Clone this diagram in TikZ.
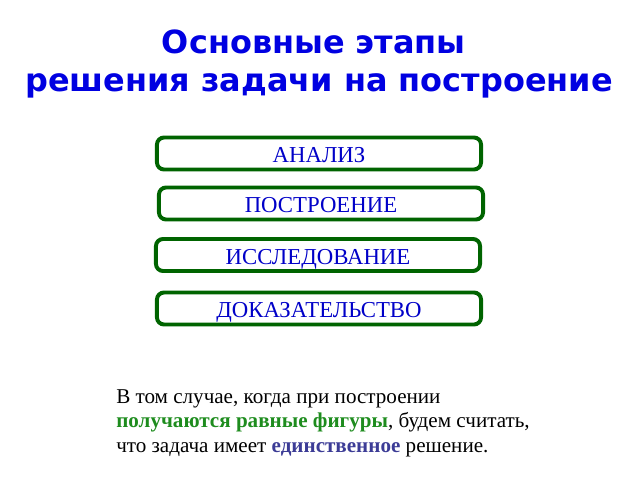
\documentclass[tikz,border=0pt]{standalone}
\usepackage{fontspec}
\setmainfont{Liberation Serif}
\newfontfamily\titlefont{DejaVu Sans}
\definecolor{titleblue}{RGB}{0,0,225}
\definecolor{stageblue}{RGB}{0,0,200}
\definecolor{framegreen}{RGB}{0,100,0}
\definecolor{wordgreen}{RGB}{30,140,30}
\definecolor{wordblue}{RGB}{60,60,150}
\tikzset{
  stage/.style={draw=framegreen, line width=2.8pt, rounded corners=5pt, fill=white,
    minimum width=8.1cm, minimum height=0.8cm, inner sep=0pt, text height=13pt, text depth=0pt,
    text=stageblue, font=\fontsize{16.2}{18}\selectfont},
  heading/.style={text=titleblue, font=\titlefont\bfseries\fontsize{22.7}{27}\selectfont, align=center}
}
\begin{document}
\begin{tikzpicture}[x=0.025cm,y=-0.025cm]
            \useasboundingbox (0,0) rectangle (640,480);
            \node[heading] (title) at (319,64) {Основные этапы\kern0.32em\\решения задачи на построение};
            \node[stage] (analysis) at (319,153.5) {АНАЛИЗ};
            \node[stage] (construction) at (321,203.5) {ПОСТРОЕНИЕ};
            \node[stage] (investigation) at (318,255) {ИССЛЕДОВАНИЕ};
            \node[stage] (proof) at (319,308.5) {ДОКАЗАТЕЛЬСТВО};
            \node[anchor=north west, align=left, inner sep=0pt, font=\fontsize{15}{17.4}\selectfont] (remark) at (116,389)
              {В том случае, когда при построении\\
               \textcolor{wordgreen}{\textbf{получаются равные фигуры}}, будем считать,\\
               что задача имеет \textcolor{wordblue}{\textbf{единственное}} решение.};
        \end{tikzpicture}
\end{document}
